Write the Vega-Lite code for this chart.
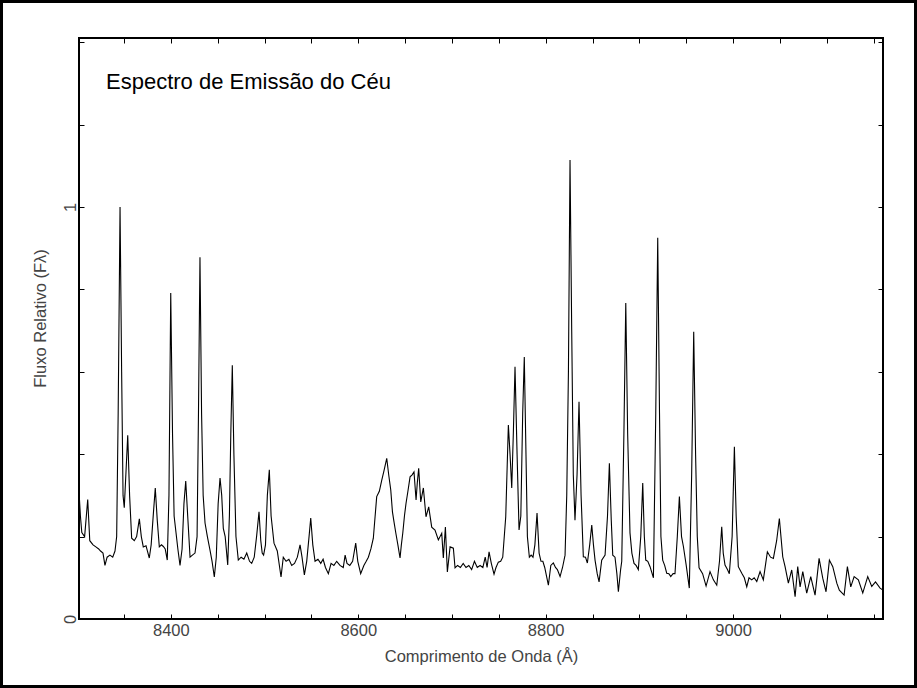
{
  "$schema": "https://vega.github.io/schema/vega-lite/v6.json",
  "width": 804,
  "height": 581,
  "autosize": {"type": "none"},
  "padding": {"left": 79, "top": 38, "right": 34, "bottom": 69},
  "background": "white",
  "config": {
    "view": {"stroke": "black", "strokeWidth": 2},
    "font": "Liberation Sans",
    "axis": {
      "domain": false,
      "grid": false,
      "tickColor": "black",
      "tickWidth": 1,
      "tickSize": -5,
      "labelColor": "#444444",
      "labelFont": "Liberation Sans",
      "labelFontSize": 16.5,
      "titleColor": "#444444",
      "titleFont": "Liberation Sans",
      "titleFontSize": 16.5,
      "titleFontWeight": "normal"
    }
  },
  "datasets": {
    "spectrum": [
      {"wl": 8302.0, "flux": 0.31}, {"wl": 8303.5, "flux": 0.25}, {"wl": 8305.0, "flux": 0.21}, {"wl": 8308.0, "flux": 0.20},
      {"wl": 8311.3, "flux": 0.29}, {"wl": 8313.5, "flux": 0.19}, {"wl": 8317.0, "flux": 0.18}, {"wl": 8320.0, "flux": 0.175},
      {"wl": 8323.0, "flux": 0.17}, {"wl": 8325.0, "flux": 0.165}, {"wl": 8327.6, "flux": 0.16}, {"wl": 8329.7, "flux": 0.13},
      {"wl": 8332.0, "flux": 0.15}, {"wl": 8335.0, "flux": 0.155}, {"wl": 8338.0, "flux": 0.15}, {"wl": 8340.4, "flux": 0.165},
      {"wl": 8342.2, "flux": 0.2}, {"wl": 8343.8, "flux": 0.5}, {"wl": 8345.8, "flux": 1.0}, {"wl": 8347.5, "flux": 0.6},
      {"wl": 8349.0, "flux": 0.3}, {"wl": 8350.3, "flux": 0.27}, {"wl": 8352.0, "flux": 0.35}, {"wl": 8354.0, "flux": 0.446},
      {"wl": 8356.0, "flux": 0.3}, {"wl": 8358.2, "flux": 0.196}, {"wl": 8361.0, "flux": 0.19}, {"wl": 8363.5, "flux": 0.2},
      {"wl": 8366.4, "flux": 0.243}, {"wl": 8368.5, "flux": 0.2}, {"wl": 8370.6, "flux": 0.175}, {"wl": 8373.5, "flux": 0.178},
      {"wl": 8377.0, "flux": 0.148}, {"wl": 8379.0, "flux": 0.18}, {"wl": 8381.5, "flux": 0.26}, {"wl": 8383.4, "flux": 0.318},
      {"wl": 8385.5, "flux": 0.24}, {"wl": 8387.7, "flux": 0.175}, {"wl": 8390.0, "flux": 0.18}, {"wl": 8392.0, "flux": 0.176},
      {"wl": 8394.0, "flux": 0.17}, {"wl": 8396.2, "flux": 0.143}, {"wl": 8398.0, "flux": 0.3}, {"wl": 8399.9, "flux": 0.791},
      {"wl": 8401.8, "flux": 0.45}, {"wl": 8403.5, "flux": 0.25}, {"wl": 8405.5, "flux": 0.21}, {"wl": 8407.5, "flux": 0.17},
      {"wl": 8409.8, "flux": 0.13}, {"wl": 8412.0, "flux": 0.17}, {"wl": 8414.0, "flux": 0.28}, {"wl": 8415.9, "flux": 0.335},
      {"wl": 8418.0, "flux": 0.25}, {"wl": 8420.5, "flux": 0.15}, {"wl": 8423.0, "flux": 0.155}, {"wl": 8425.8, "flux": 0.16},
      {"wl": 8428.0, "flux": 0.2}, {"wl": 8429.5, "flux": 0.5}, {"wl": 8431.1, "flux": 0.878}, {"wl": 8432.8, "flux": 0.5},
      {"wl": 8434.5, "flux": 0.3}, {"wl": 8436.5, "flux": 0.233}, {"wl": 8439.0, "flux": 0.2}, {"wl": 8441.8, "flux": 0.167},
      {"wl": 8444.0, "flux": 0.14}, {"wl": 8446.4, "flux": 0.102}, {"wl": 8448.5, "flux": 0.15}, {"wl": 8450.5, "flux": 0.28},
      {"wl": 8452.5, "flux": 0.342}, {"wl": 8454.3, "flux": 0.3}, {"wl": 8456.0, "flux": 0.22}, {"wl": 8458.0, "flux": 0.2},
      {"wl": 8460.7, "flux": 0.131}, {"wl": 8462.5, "flux": 0.25}, {"wl": 8464.0, "flux": 0.45}, {"wl": 8465.6, "flux": 0.616},
      {"wl": 8467.3, "flux": 0.4}, {"wl": 8469.5, "flux": 0.2}, {"wl": 8472.0, "flux": 0.143}, {"wl": 8475.0, "flux": 0.15},
      {"wl": 8478.0, "flux": 0.145}, {"wl": 8481.0, "flux": 0.16}, {"wl": 8484.0, "flux": 0.14}, {"wl": 8486.3, "flux": 0.135},
      {"wl": 8489.0, "flux": 0.15}, {"wl": 8491.5, "flux": 0.2}, {"wl": 8494.1, "flux": 0.26}, {"wl": 8496.0, "flux": 0.19},
      {"wl": 8497.5, "flux": 0.16}, {"wl": 8499.0, "flux": 0.155}, {"wl": 8501.0, "flux": 0.18}, {"wl": 8503.0, "flux": 0.3},
      {"wl": 8505.1, "flux": 0.362}, {"wl": 8507.0, "flux": 0.25}, {"wl": 8510.1, "flux": 0.184}, {"wl": 8513.6, "flux": 0.165},
      {"wl": 8517.6, "flux": 0.102}, {"wl": 8520.0, "flux": 0.15}, {"wl": 8523.0, "flux": 0.14}, {"wl": 8526.0, "flux": 0.145},
      {"wl": 8529.0, "flux": 0.13}, {"wl": 8532.0, "flux": 0.135}, {"wl": 8535.0, "flux": 0.15}, {"wl": 8537.9, "flux": 0.18},
      {"wl": 8540.0, "flux": 0.15}, {"wl": 8542.5, "flux": 0.107}, {"wl": 8545.0, "flux": 0.14}, {"wl": 8547.5, "flux": 0.2},
      {"wl": 8549.3, "flux": 0.245}, {"wl": 8551.5, "flux": 0.18}, {"wl": 8553.9, "flux": 0.14}, {"wl": 8557.0, "flux": 0.145},
      {"wl": 8560.0, "flux": 0.135}, {"wl": 8562.5, "flux": 0.145}, {"wl": 8565.0, "flux": 0.125}, {"wl": 8568.1, "flux": 0.11},
      {"wl": 8571.0, "flux": 0.135}, {"wl": 8574.0, "flux": 0.13}, {"wl": 8577.0, "flux": 0.14}, {"wl": 8580.5, "flux": 0.13},
      {"wl": 8584.0, "flux": 0.125}, {"wl": 8586.0, "flux": 0.155}, {"wl": 8588.0, "flux": 0.135}, {"wl": 8591.0, "flux": 0.13},
      {"wl": 8594.0, "flux": 0.14}, {"wl": 8597.3, "flux": 0.184}, {"wl": 8599.5, "flux": 0.14}, {"wl": 8602.6, "flux": 0.11},
      {"wl": 8606.0, "flux": 0.13}, {"wl": 8608.5, "flux": 0.14}, {"wl": 8610.8, "flux": 0.15}, {"wl": 8613.5, "flux": 0.17},
      {"wl": 8616.1, "flux": 0.196}, {"wl": 8619.7, "flux": 0.297}, {"wl": 8622.5, "flux": 0.31}, {"wl": 8625.1, "flux": 0.337},
      {"wl": 8627.5, "flux": 0.36}, {"wl": 8630.4, "flux": 0.39}, {"wl": 8632.5, "flux": 0.35}, {"wl": 8634.7, "flux": 0.313},
      {"wl": 8636.5, "flux": 0.26}, {"wl": 8638.2, "flux": 0.235}, {"wl": 8640.0, "flux": 0.21}, {"wl": 8642.3, "flux": 0.18},
      {"wl": 8644.6, "flux": 0.148}, {"wl": 8646.0, "flux": 0.18}, {"wl": 8647.5, "flux": 0.208}, {"wl": 8649.3, "flux": 0.25},
      {"wl": 8651.0, "flux": 0.281}, {"wl": 8653.0, "flux": 0.31}, {"wl": 8655.3, "flux": 0.345}, {"wl": 8657.5, "flux": 0.35},
      {"wl": 8659.5, "flux": 0.357}, {"wl": 8661.7, "flux": 0.289}, {"wl": 8663.0, "flux": 0.33}, {"wl": 8664.5, "flux": 0.366},
      {"wl": 8666.7, "flux": 0.284}, {"wl": 8669.5, "flux": 0.318}, {"wl": 8672.3, "flux": 0.248}, {"wl": 8675.2, "flux": 0.272},
      {"wl": 8678.4, "flux": 0.223}, {"wl": 8681.9, "flux": 0.216}, {"wl": 8685.5, "flux": 0.192}, {"wl": 8689.1, "flux": 0.208},
      {"wl": 8690.8, "flux": 0.148}, {"wl": 8693.0, "flux": 0.223}, {"wl": 8695.1, "flux": 0.114}, {"wl": 8698.0, "flux": 0.175},
      {"wl": 8701.5, "flux": 0.172}, {"wl": 8703.3, "flux": 0.124}, {"wl": 8706.0, "flux": 0.13}, {"wl": 8709.0, "flux": 0.125},
      {"wl": 8712.0, "flux": 0.135}, {"wl": 8715.0, "flux": 0.125}, {"wl": 8718.0, "flux": 0.13}, {"wl": 8721.0, "flux": 0.12},
      {"wl": 8724.0, "flux": 0.14}, {"wl": 8727.0, "flux": 0.125}, {"wl": 8730.0, "flux": 0.13}, {"wl": 8733.0, "flux": 0.125},
      {"wl": 8735.5, "flux": 0.15}, {"wl": 8737.5, "flux": 0.125}, {"wl": 8739.6, "flux": 0.163}, {"wl": 8742.0, "flux": 0.135},
      {"wl": 8744.9, "flux": 0.109}, {"wl": 8747.0, "flux": 0.125}, {"wl": 8749.5, "flux": 0.138}, {"wl": 8752.0, "flux": 0.14},
      {"wl": 8754.2, "flux": 0.15}, {"wl": 8757.4, "flux": 0.248}, {"wl": 8760.2, "flux": 0.471}, {"wl": 8762.0, "flux": 0.4},
      {"wl": 8763.8, "flux": 0.318}, {"wl": 8765.5, "flux": 0.45}, {"wl": 8767.3, "flux": 0.612}, {"wl": 8769.5, "flux": 0.4},
      {"wl": 8771.6, "flux": 0.216}, {"wl": 8773.5, "flux": 0.25}, {"wl": 8775.5, "flux": 0.5}, {"wl": 8777.2, "flux": 0.636},
      {"wl": 8779.0, "flux": 0.4}, {"wl": 8780.5, "flux": 0.2}, {"wl": 8782.6, "flux": 0.15}, {"wl": 8784.5, "flux": 0.155},
      {"wl": 8786.5, "flux": 0.15}, {"wl": 8788.5, "flux": 0.18}, {"wl": 8790.8, "flux": 0.257}, {"wl": 8793.0, "flux": 0.16},
      {"wl": 8795.0, "flux": 0.14}, {"wl": 8797.0, "flux": 0.14}, {"wl": 8799.0, "flux": 0.125}, {"wl": 8802.9, "flux": 0.082},
      {"wl": 8805.5, "flux": 0.13}, {"wl": 8808.2, "flux": 0.136}, {"wl": 8810.5, "flux": 0.125}, {"wl": 8812.5, "flux": 0.12},
      {"wl": 8815.4, "flux": 0.103}, {"wl": 8818.0, "flux": 0.125}, {"wl": 8820.7, "flux": 0.155}, {"wl": 8822.5, "flux": 0.3},
      {"wl": 8824.3, "flux": 0.6}, {"wl": 8826.0, "flux": 1.114}, {"wl": 8827.8, "flux": 0.7}, {"wl": 8829.5, "flux": 0.35},
      {"wl": 8831.3, "flux": 0.24}, {"wl": 8833.5, "flux": 0.35}, {"wl": 8835.6, "flux": 0.527}, {"wl": 8837.8, "flux": 0.3},
      {"wl": 8840.2, "flux": 0.151}, {"wl": 8842.5, "flux": 0.15}, {"wl": 8844.5, "flux": 0.136}, {"wl": 8847.0, "flux": 0.18},
      {"wl": 8849.2, "flux": 0.228}, {"wl": 8851.0, "flux": 0.18}, {"wl": 8852.7, "flux": 0.143}, {"wl": 8855.0, "flux": 0.11},
      {"wl": 8857.0, "flux": 0.09}, {"wl": 8859.8, "flux": 0.143}, {"wl": 8863.4, "flux": 0.155}, {"wl": 8866.0, "flux": 0.25},
      {"wl": 8868.0, "flux": 0.378}, {"wl": 8870.0, "flux": 0.24}, {"wl": 8871.6, "flux": 0.155}, {"wl": 8874.0, "flux": 0.15},
      {"wl": 8876.0, "flux": 0.11}, {"wl": 8877.6, "flux": 0.066}, {"wl": 8880.0, "flux": 0.12}, {"wl": 8881.2, "flux": 0.14},
      {"wl": 8883.5, "flux": 0.45}, {"wl": 8885.5, "flux": 0.767}, {"wl": 8887.5, "flux": 0.45}, {"wl": 8890.0, "flux": 0.209},
      {"wl": 8892.0, "flux": 0.16}, {"wl": 8894.3, "flux": 0.135}, {"wl": 8896.5, "flux": 0.13}, {"wl": 8898.9, "flux": 0.12},
      {"wl": 8901.5, "flux": 0.2}, {"wl": 8903.6, "flux": 0.33}, {"wl": 8905.3, "flux": 0.2}, {"wl": 8906.8, "flux": 0.143},
      {"wl": 8909.0, "flux": 0.14}, {"wl": 8911.4, "flux": 0.127}, {"wl": 8913.0, "flux": 0.115}, {"wl": 8915.0, "flux": 0.1},
      {"wl": 8917.5, "flux": 0.5}, {"wl": 8919.6, "flux": 0.925}, {"wl": 8921.5, "flux": 0.5}, {"wl": 8923.0, "flux": 0.2},
      {"wl": 8924.9, "flux": 0.143}, {"wl": 8927.0, "flux": 0.13}, {"wl": 8929.2, "flux": 0.111}, {"wl": 8931.5, "flux": 0.11},
      {"wl": 8933.5, "flux": 0.103}, {"wl": 8936.0, "flux": 0.11}, {"wl": 8938.0, "flux": 0.11}, {"wl": 8940.5, "flux": 0.2},
      {"wl": 8942.7, "flux": 0.297}, {"wl": 8945.0, "flux": 0.2}, {"wl": 8947.0, "flux": 0.176}, {"wl": 8950.0, "flux": 0.13},
      {"wl": 8953.3, "flux": 0.075}, {"wl": 8955.8, "flux": 0.35}, {"wl": 8958.0, "flux": 0.697}, {"wl": 8960.0, "flux": 0.4},
      {"wl": 8961.8, "flux": 0.2}, {"wl": 8963.7, "flux": 0.124}, {"wl": 8967.5, "flux": 0.11}, {"wl": 8971.2, "flux": 0.08},
      {"wl": 8975.4, "flux": 0.115}, {"wl": 8979.0, "flux": 0.095}, {"wl": 8982.6, "flux": 0.082}, {"wl": 8985.5, "flux": 0.14},
      {"wl": 8987.9, "flux": 0.224}, {"wl": 8989.5, "flux": 0.16}, {"wl": 8991.4, "flux": 0.131}, {"wl": 8994.0, "flux": 0.12},
      {"wl": 8996.0, "flux": 0.11}, {"wl": 8999.0, "flux": 0.2}, {"wl": 9001.4, "flux": 0.418}, {"wl": 9003.3, "flux": 0.25},
      {"wl": 9005.6, "flux": 0.127}, {"wl": 9009.3, "flux": 0.111}, {"wl": 9012.0, "flux": 0.1}, {"wl": 9014.6, "flux": 0.078},
      {"wl": 9017.0, "flux": 0.1}, {"wl": 9019.9, "flux": 0.095}, {"wl": 9022.5, "flux": 0.1}, {"wl": 9025.3, "flux": 0.091},
      {"wl": 9028.8, "flux": 0.115}, {"wl": 9032.3, "flux": 0.095}, {"wl": 9036.6, "flux": 0.163}, {"wl": 9040.0, "flux": 0.15},
      {"wl": 9043.0, "flux": 0.147}, {"wl": 9046.5, "flux": 0.19}, {"wl": 9049.4, "flux": 0.244}, {"wl": 9051.5, "flux": 0.19},
      {"wl": 9053.0, "flux": 0.151}, {"wl": 9055.5, "flux": 0.127}, {"wl": 9059.0, "flux": 0.087}, {"wl": 9062.6, "flux": 0.119},
      {"wl": 9066.2, "flux": 0.054}, {"wl": 9069.0, "flux": 0.127}, {"wl": 9071.5, "flux": 0.078}, {"wl": 9074.4, "flux": 0.115},
      {"wl": 9078.6, "flux": 0.063}, {"wl": 9082.9, "flux": 0.103}, {"wl": 9087.5, "flux": 0.058}, {"wl": 9091.8, "flux": 0.147},
      {"wl": 9095.7, "flux": 0.099}, {"wl": 9099.2, "flux": 0.066}, {"wl": 9102.8, "flux": 0.143}, {"wl": 9106.4, "flux": 0.127},
      {"wl": 9110.7, "flux": 0.087}, {"wl": 9113.4, "flux": 0.07}, {"wl": 9118.5, "flux": 0.058}, {"wl": 9122.0, "flux": 0.127},
      {"wl": 9125.6, "flux": 0.078}, {"wl": 9129.2, "flux": 0.103}, {"wl": 9133.7, "flux": 0.095}, {"wl": 9138.4, "flux": 0.063},
      {"wl": 9143.7, "flux": 0.103}, {"wl": 9148.0, "flux": 0.079}, {"wl": 9152.0, "flux": 0.09}, {"wl": 9156.9, "flux": 0.075},
      {"wl": 9160.0, "flux": 0.07}
    ]
  },
  "layer": [
    {
      "data": {"values": [{}]},
      "mark": {"type": "rect", "fill": null, "fillOpacity": 0, "stroke": "black", "strokeWidth": 3, "clip": false},
      "encoding": {
        "x": {"datum": 8219.3, "type": "quantitative", "scale": {"domain": [8302, 9160], "nice": false, "zero": false}, "axis": null},
        "x2": {"datum": 9194.7},
        "y": {"datum": 1.4986, "type": "quantitative", "scale": {"domain": [0, 1.41], "nice": false, "zero": false}, "axis": null},
        "y2": {"datum": -0.1638}
      }
    },
    {
      "data": {"name": "spectrum"},
      "mark": {"type": "line", "color": "black", "strokeWidth": 1.1, "interpolate": "linear"},
      "encoding": {
        "x": {
          "field": "wl", "type": "quantitative",
          "axis": {
            "orient": "bottom",
            "title": "Comprimento de Onda (Å)",
            "values": [8350, 8400, 8450, 8500, 8550, 8600, 8650, 8700, 8750, 8800, 8850, 8900, 8950, 9000, 9050, 9100, 9150],
            "labelExpr": "datum.value % 200 === 0 ? datum.label : ''",
            "format": "d",
            "labelPadding": 8,
            "titlePadding": 10
          }
        },
        "y": {
          "field": "flux", "type": "quantitative",
          "axis": {
            "orient": "left",
            "title": "Fluxo Relativo  (Fλ)",
            "titleY": 280,
            "values": [0, 0.2, 0.4, 0.6, 0.8, 1, 1.2, 1.4],
            "labelExpr": "datum.value === 0 ? '0' : (datum.value === 1 ? '1' : '')",
            "labelAngle": -90,
            "labelAlign": "center",
            "labelBaseline": "bottom",
            "labelPadding": 6,
            "titlePadding": 14
          }
        }
      }
    },
    {
      "data": {"name": "spectrum"},
      "mark": {"type": "line", "opacity": 0},
      "encoding": {
        "x": {
          "field": "wl", "type": "quantitative",
          "axis": {
            "orient": "top", "title": null, "labels": false,
            "values": [8350, 8400, 8450, 8500, 8550, 8600, 8650, 8700, 8750, 8800, 8850, 8900, 8950, 9000, 9050, 9100, 9150]
          }
        },
        "y": {
          "field": "flux", "type": "quantitative",
          "axis": {
            "orient": "right", "title": null, "labels": false,
            "values": [0, 0.2, 0.4, 0.6, 0.8, 1, 1.2, 1.4]
          }
        }
      }
    },
    {
      "data": {"values": [{}]},
      "mark": {"type": "text", "align": "left", "baseline": "middle", "fontSize": 22, "font": "Liberation Sans", "color": "black", "text": "Espectro de Emissão do Céu"},
      "encoding": {
        "x": {"datum": 8330.8, "type": "quantitative", "axis": null},
        "y": {"datum": 1.303, "type": "quantitative", "axis": null}
      }
    }
  ],
  "resolve": {"axis": {"x": "independent", "y": "independent"}}
}
